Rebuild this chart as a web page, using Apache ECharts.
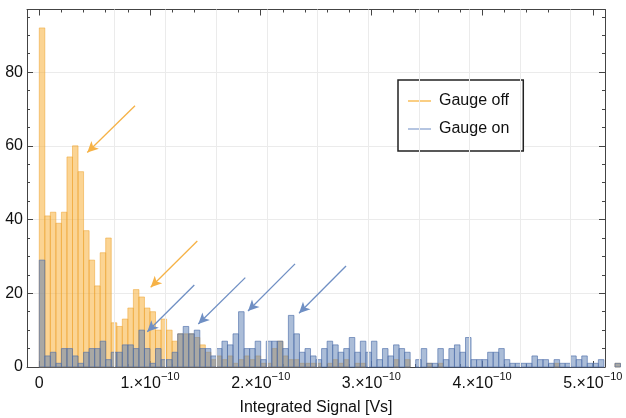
<!DOCTYPE html>
<html><head><meta charset="utf-8">
<script src="https://cdn.jsdelivr.net/npm/echarts@6/dist/echarts.min.js"></script>
<style>html,body{margin:0;padding:0;background:#fff}#c{width:626px;height:418px}</style>
</head><body><div id="c"></div>
<script>
// x in units of 1e-10 Vs
const binWidth = 0.05;
const gaugeOff = [
 92,41,42,39,42,57,60,53,37,29,22,31,35,12,11,13,16,21,19,16,
 15,10,13,10,7,9,9,9,8,6,4,2,3,2,3,1,2,3,
 2,3,1,1,5,7,3,2,2,1,1,1,1,0,1,2,1,2,0,1,1,0,
 0,0,0,0,2,0,2,0,0,0,1,0,1,0,0,0,0,0,0,0,0,0,
 0,0,0,0,0,0,0,0,0,0,0,1,0,0,0,0,0,0,0,0,
 0,0,1
];
const gaugeOn = [
 29,3,4,1,5,5,3,1,4,5,5,7,2,4,4,6,6,5,10,5,
 1,5,2,2,4,9,11,9,10,5,5,3,5,7,6,9,15,5,
 5,7,2,7,7,7,5,14,9,4,5,3,2,5,7,6,4,5,8,4,7,4,
 7,2,5,3,6,5,4,0,2,5,1,1,5,2,5,6,4,8,2,2,2,4,
 4,5,2,1,1,1,1,3,2,2,1,2,1,1,3,2,3,1,1,2,
 0,0,1
];
const seriesNames = ['Gauge off', 'Gauge on'];
const xMajorTicks = [0,1,2,3,4,5];
const xMinorTicks = [0.2,0.4,0.6,0.8,1.2,1.4,1.6,1.8,2.2,2.4,2.6,2.8,3.2,3.4,3.6,3.8,4.2,4.4,4.6,4.8];
const xGridLines = [0.684,1.141,1.598,2.055,2.512,2.969,3.426,3.883,4.340,4.797];
const xRange = [-0.111, 5.11];
const yRange = [0, 97];
const arrowsOff = [[[0.8645,70.87],[0.4336,58.19]], [[1.4273,34.21],[1.0063,21.64]]];
const arrowsOn = [[[1.4002,22.26],[0.9756,9.58]], [[1.8609,24.25],[1.4363,11.68]],
                  [[2.3099,27.97],[1.8853,15.2]], [[2.7706,27.42],[2.3460,14.58]]];

const FONT = '"Liberation Sans", Arial, sans-serif';
const frameColor = '#444';
const offFill = 'rgba(248,176,58,0.55)', offStroke = 'rgba(238,160,40,0.5)';
const onFill = 'rgba(94,129,181,0.52)', onStroke = 'rgba(80,112,170,0.65)';

function toBins(arr){ return arr.map((v,i)=>[i*binWidth,(i+1)*binWidth,v]).filter(d=>d[2]>0); }
function barRender(fill, stroke){
  return function(params, api){
    const p0 = api.coord([api.value(0), 0]);
    const p1 = api.coord([api.value(1), api.value(2)]);
    return {type:'rect', shape:{x:p0[0], y:p1[1], width:p1[0]-p0[0], height:p0[1]-p1[1]},
            style:{fill:fill, stroke:stroke, lineWidth:1}};
  };
}
function xAx(pos, ticks, len, showLine, showLabel, name){
  return {type:'value', position:pos, min:xRange[0], max:xRange[1],
    axisLine:{show:showLine, onZero:false, lineStyle:{color:frameColor, width:1}},
    axisTick:{show:true, inside:true, length:len, customValues:ticks, lineStyle:{color:frameColor}},
    axisLabel:{show:showLabel, customValues:ticks, margin:4, hideOverlap:false, color:'#111',
      fontFamily:FONT, fontSize:16,
      formatter:function(v){ return v===0 ? '{a|0}' : '{a|'+v+'.×10}{b|−10}'; },
      rich:{a:{fontSize:16, lineHeight:21, verticalAlign:'bottom', fontFamily:FONT, color:'#111'},
            b:{fontSize:11, lineHeight:11, verticalAlign:'top', fontFamily:FONT, color:'#111'}}},
    splitLine:{show:false},
    name: name || '', nameLocation:'middle', nameGap:33,
    nameTextStyle:{fontFamily:FONT, fontSize:16, color:'#111'}
  };
}
function yAx(pos, interval, len, showLine, showLabel, split){
  return {type:'value', position:pos, min:yRange[0], max:yRange[1], interval:interval,
    axisLine:{show:showLine, onZero:false, lineStyle:{color:frameColor, width:1}},
    axisTick:{show:true, inside:true, length:len, lineStyle:{color:frameColor}},
    axisLabel:{show:showLabel, margin:4, color:'#111', fontFamily:FONT, fontSize:16,
      showMaxLabel:false},
    splitLine:{show:split, lineStyle:{color:'#ebebeb', width:1}}
  };
}
function arrowLines(list){
  return list.map(a=>[{coord:a[0]},{coord:a[1]}]);
}

const chart = echarts.init(document.getElementById('c'), null, {renderer:'canvas'});
chart.setOption({
  animation:false,
  backgroundColor:'#fff',
  grid:{left:27, right:21, top:9.5, bottom:51, containLabel:false, outerBoundsMode:'none'},
  xAxis:[
    xAx('bottom', xMajorTicks, 6, true, true, 'Integrated Signal [Vs]'),
    xAx('bottom', xMinorTicks, 3, false, false),
    xAx('top', xMajorTicks, 6, true, false),
    xAx('top', xMinorTicks, 3, false, false)
  ],
  yAxis:[
    yAx('left', 20, 6, true, true, true),
    yAx('left', 5, 3, false, false, false),
    yAx('right', 20, 6, true, false, false),
    yAx('right', 5, 3, false, false, false)
  ],
  legend:{
    left:398, top:80, orient:'vertical',
    data:[{name:seriesNames[0], itemStyle:{color:'rgba(248,190,90,0.75)'}},
          {name:seriesNames[1], itemStyle:{color:'rgba(120,150,200,0.55)'}}],
    icon:'rect', itemWidth:23, itemHeight:2, itemGap:12,
    padding:[13,14,14,10], borderColor:'#222', borderWidth:1.5, backgroundColor:'#fff',
    textStyle:{fontFamily:FONT, fontSize:16, color:'#111', padding:[0,0,0,3]},
    selectedMode:false
  },
  series:[
    {type:'line', data:[], silent:true, xAxisIndex:0, yAxisIndex:0,
     markLine:{silent:true, symbol:['none','none'], label:{show:false}, animation:false,
       lineStyle:{color:'#ebebeb', width:1, type:'solid'},
       data: xGridLines.map(v=>({xAxis:v}))}, z:0},
    {name:seriesNames[0], type:'custom', xAxisIndex:0, yAxisIndex:0, clip:false,
     data:toBins(gaugeOff), renderItem:barRender(offFill, offStroke), encode:{x:[0,1], y:2}, z:2},
    {name:seriesNames[1], type:'custom', xAxisIndex:0, yAxisIndex:0, clip:false,
     data:toBins(gaugeOn), renderItem:barRender(onFill, onStroke), encode:{x:[0,1], y:2}, z:3},
    {type:'line', data:[], silent:true, xAxisIndex:0, yAxisIndex:0, z:5,
     markLine:{silent:true, symbol:['none','arrow'], symbolSize:[8,11], label:{show:false}, animation:false,
       lineStyle:{color:'rgb(246,178,70)', width:1.3, type:'solid'}, itemStyle:{color:'rgb(246,178,70)'},
       data:arrowLines(arrowsOff)}},
    {type:'line', data:[], silent:true, xAxisIndex:0, yAxisIndex:0, z:5,
     markLine:{silent:true, symbol:['none','arrow'], symbolSize:[8,11], label:{show:false}, animation:false,
       lineStyle:{color:'rgb(111,143,196)', width:1.3, type:'solid'}, itemStyle:{color:'rgb(111,143,196)'},
       data:arrowLines(arrowsOn)}}
  ]
});
</script></body></html>
